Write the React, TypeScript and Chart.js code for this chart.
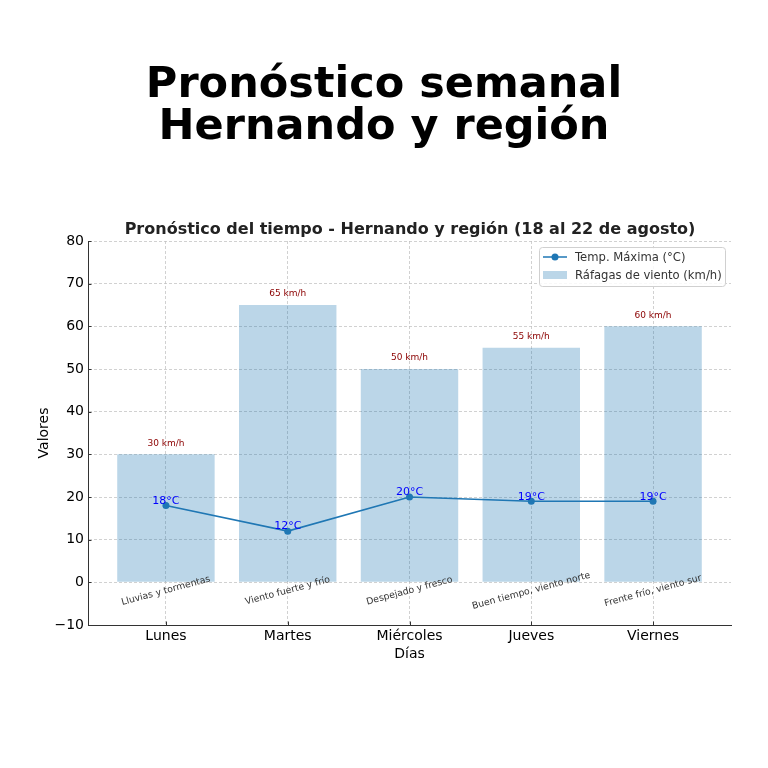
import React, { useEffect, useRef } from "react";
import { Chart, registerables } from "chart.js";

Chart.register(...registerables);

const days = ["Lunes", "Martes", "Miércoles", "Jueves", "Viernes"];
const gusts = [30, 65, 50, 55, 60];
const tempMax = [18, 12, 20, 19, 19];
const descriptions = [
  "Lluvias y tormentas",
  "Viento fuerte y frío",
  "Despejado y fresco",
  "Buen tiempo, viento norte",
  "Frente frío, viento sur",
];
const yTicks = [-10, 0, 10, 20, 30, 40, 50, 60, 70, 80];

const FONT = "'DejaVu Sans', sans-serif";
const BLUE = "#1f77b4";
const BAR = "rgba(31,119,180,0.3)";
const GRID = "rgba(190,190,190,0.7)";
const AXIS = "#333";

const annotations = {
  id: "annotations",
  afterDatasetsDraw(chart: any) {
    const ctx = chart.ctx;
    const xs = chart.scales.x;
    const ys = chart.scales.y;
    ctx.save();
    ctx.font = `9px ${FONT}`;
    ctx.fillStyle = "#8b0000";
    ctx.textAlign = "center";
    ctx.textBaseline = "bottom";
    gusts.forEach((g, i) => {
      ctx.fillText(`${g} km/h`, xs.getPixelForValue(i), ys.getPixelForValue(g + 1.5));
    });
    ctx.font = `11px ${FONT}`;
    ctx.fillStyle = "#0000ff";
    tempMax.forEach((t, i) => {
      ctx.fillText(`${t}°C`, xs.getPixelForValue(i), ys.getPixelForValue(t) + 1);
    });
    ctx.font = `9.3px ${FONT}`;
    ctx.fillStyle = "#333333";
    ctx.textBaseline = "middle";
    descriptions.forEach((d, i) => {
      ctx.save();
      ctx.translate(xs.getPixelForValue(i), ys.getPixelForValue(-2));
      ctx.rotate((-15 * Math.PI) / 180);
      ctx.fillText(d, 0, 0);
      ctx.restore();
    });
    ctx.restore();
  },
  afterDraw(chart: any) {
    const ctx = chart.ctx;
    const area = chart.chartArea;
    const xs = chart.scales.x;
    const ys = chart.scales.y;
    ctx.save();
    ctx.strokeStyle = AXIS;
    ctx.lineWidth = 1;
    ctx.setLineDash([]);
    ctx.beginPath();
    yTicks.forEach((v) => {
      const y = Math.round(ys.getPixelForValue(v)) + 0.5;
      ctx.moveTo(area.left, y);
      ctx.lineTo(area.left + 3.5, y);
    });
    days.forEach((_, i) => {
      const x = Math.round(xs.getPixelForValue(i)) + 0.5;
      ctx.moveTo(x, area.bottom);
      ctx.lineTo(x, area.bottom - 3.5);
    });
    ctx.stroke();
    ctx.fillStyle = "#000";
    ctx.textAlign = "center";
    ctx.textBaseline = "middle";
    ctx.font = `bold 43px ${FONT}`;
    ctx.fillText("Pronóstico semanal", 384, 86);
    ctx.fillText("Hernando y región", 384, 128);
    ctx.fillStyle = "#222";
    ctx.font = `bold 16px ${FONT}`;
    ctx.fillText("Pronóstico del tiempo - Hernando y región (18 al 22 de agosto)", 410, 230);
    const lx = area.right - 192;
    const ly = area.top + 6;
    const lw = 186;
    const lh = 39;
    ctx.fillStyle = "rgba(255,255,255,0.85)";
    ctx.strokeStyle = "#d0d0d0";
    ctx.lineWidth = 1;
    ctx.beginPath();
    (ctx as any).roundRect(lx + 0.5, ly + 0.5, lw, lh, 3);
    ctx.fill();
    ctx.stroke();
    ctx.strokeStyle = BLUE;
    ctx.lineWidth = 1.5;
    ctx.beginPath();
    ctx.moveTo(lx + 4, ly + 10);
    ctx.lineTo(lx + 28, ly + 10);
    ctx.stroke();
    ctx.fillStyle = BLUE;
    ctx.beginPath();
    ctx.arc(lx + 16, ly + 10, 3.5, 0, Math.PI * 2);
    ctx.fill();
    ctx.fillStyle = BAR;
    ctx.fillRect(lx + 4, ly + 24, 24, 8);
    ctx.fillStyle = "#333";
    ctx.font = `11.6px ${FONT}`;
    ctx.textAlign = "left";
    ctx.textBaseline = "middle";
    ctx.fillText("Temp. Máxima (°C)", lx + 36, ly + 11);
    ctx.fillText("Ráfagas de viento (km/h)", lx + 36, ly + 29);
    ctx.restore();
  },
};

export default function App() {
  const ref = useRef<HTMLCanvasElement | null>(null);
  useEffect(() => {
    if (!ref.current) return;
    const chart = new Chart(ref.current, {
      type: "bar",
      data: {
        datasets: [
          {
            type: "line",
            label: "Temp. Máxima (°C)",
            data: tempMax.map((v, i) => ({ x: i, y: v })),
            borderColor: BLUE,
            backgroundColor: BLUE,
            borderWidth: 1.6,
            pointRadius: 3.5,
            pointBackgroundColor: BLUE,
            pointBorderWidth: 0,
            order: 1,
          } as any,
          {
            type: "bar",
            label: "Ráfagas de viento (km/h)",
            data: gusts.map((v, i) => ({ x: i, y: v })),
            backgroundColor: BAR,
            barPercentage: 0.8,
            categoryPercentage: 1,
            order: 2,
          },
        ],
      },
      plugins: [annotations],
      options: {
        responsive: false,
        animation: false,
        layout: { padding: { left: 36, right: 37, top: 241, bottom: 105 } },
        plugins: { legend: { display: false }, tooltip: { enabled: false } },
        scales: {
          x: {
            type: "linear",
            offset: false,
            min: -0.64,
            max: 4.64,
            afterBuildTicks: (s: any) => {
              s.ticks = days.map((_, i) => ({ value: i }));
            },
            afterFit: (s: any) => {
              s.height = 38;
            },
            ticks: {
              callback: (v: any) => days[Math.round(Number(v))] ?? "",
              color: "#000",
              font: { family: FONT, size: 14 },
              padding: 3,
              maxRotation: 0,
            },
            grid: { color: GRID, offset: false, drawTicks: false },
            border: { color: AXIS, width: 1, dash: [3, 2] },
            title: { display: true, text: "Días", color: "#000", font: { family: FONT, size: 14 }, padding: { top: 0, bottom: 0 } },
          } as any,
          y: {
            min: -10,
            max: 80,
            afterBuildTicks: (s: any) => {
              s.ticks = yTicks.map((v) => ({ value: v }));
            },
            afterFit: (s: any) => {
              s.width = 52;
            },
            ticks: {
              color: "#000",
              font: { family: FONT, size: 14 },
              padding: 4,
              callback: (v: any) => String(v).replace("-", "\u2212"),
            },
            grid: { color: GRID, drawTicks: false },
            border: { color: AXIS, width: 1, dash: [3, 2] },
            title: { display: true, text: "Valores", color: "#000", font: { family: FONT, size: 14 }, padding: 0 },
          } as any,
        },
      },
    });
    return () => chart.destroy();
  }, []);
  return (
    <div style={{ position: "fixed", left: 0, top: 0, width: 768, height: 768, background: "#fff" }}>
      <canvas ref={ref} width={768} height={768} style={{ width: 768, height: 768 }} />
    </div>
  );
}
